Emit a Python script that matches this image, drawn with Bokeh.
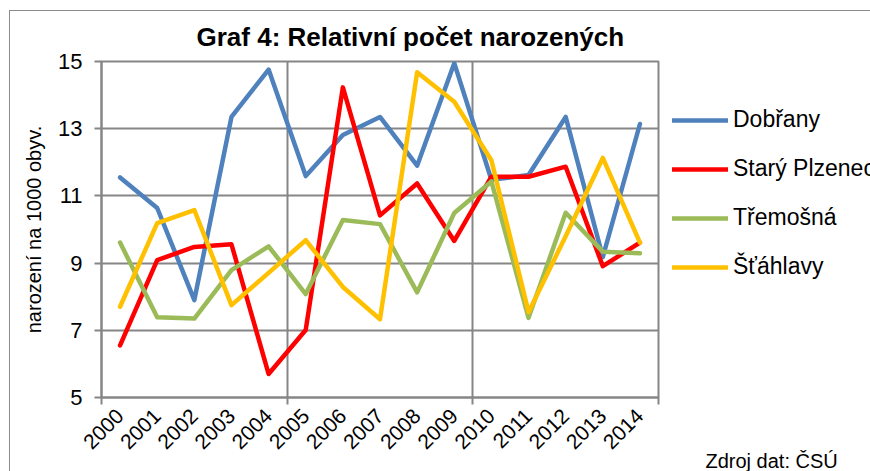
import math
from bokeh.plotting import figure
from bokeh.models import (FixedTicker, Legend, LegendItem, Title, Range1d,
                          InlineStyleSheet)
from bokeh.embed import file_html
from bokeh.resources import INLINE

years = ["2000", "2001", "2002", "2003", "2004", "2005", "2006", "2007",
         "2008", "2009", "2010", "2011", "2012", "2013", "2014"]
dobrany = [11.55, 10.64, 7.90, 13.35, 14.76, 11.59, 12.81, 13.35, 11.90,
           14.95, 11.48, 11.62, 13.35, 9.18, 13.14]
stary_plzenec = [6.55, 9.09, 9.48, 9.56, 5.70, 7.01, 14.23, 10.42, 11.37,
                 9.66, 11.57, 11.57, 11.87, 8.91, 9.61]
tremosna = [9.61, 7.39, 7.35, 8.79, 9.50, 8.08, 10.28, 10.16, 8.13,
            10.49, 11.43, 7.37, 10.50, 9.34, 9.29]
stahlavy = [7.70, 10.19, 10.58, 7.75, 8.71, 9.68, 8.29, 7.33, 14.68,
            13.80, 12.06, 7.54, 9.80, 12.13, 9.61]
series_names = ["Dobřany", "Starý Plzenec", "Třemošná", "Šťáhlavy"]
series_colors = ["#4F81BD", "#FF0000", "#9BBB59", "#FFC000"]
y_ticks = [5, 7, 9, 11, 13, 15]
source_note = "Zdroj dat: ČSÚ"

FONT = "Liberation Sans"
GRID = "#868686"

n = len(years)
xs = [i + 0.5 for i in range(n)]

p = figure(frame_width=557, frame_height=336, output_backend="svg",
           toolbar_location=None,
           x_range=Range1d(0, n), y_range=Range1d(5, 15),
           min_border_left=101, min_border_right=0, min_border_top=61,
           min_border_bottom=84)
p.background_fill_color = "white"
p.border_fill_color = "white"
p.outline_line_color = GRID
p.outline_line_width = 2
p.stylesheets = [InlineStyleSheet(css=(
    ":host::after { content: ''; position: absolute; left: 9px; top: 10px;"
    " right: 0px; bottom: 0px; border-left: 1.5px solid #8c8c8c;"
    " border-top: 1.5px solid #8c8c8c; pointer-events: none; }"))]

p.title = Title(text="Graf 4: Relativní počet narozených", align="left",
                offset=95, text_font=FONT, text_font_size="26px",
                text_font_style="bold", text_color="black", standoff=19)

# x axis
p.xaxis.ticker = FixedTicker(ticks=xs, minor_ticks=[0, 5, 10, 15])
p.xaxis.major_label_overrides = {x: y for x, y in zip(xs, years)}
p.xaxis.major_label_orientation = math.pi / 4
p.xaxis.major_tick_line_color = None
p.xaxis.minor_tick_line_color = GRID
p.xaxis.minor_tick_line_width = 2
p.xaxis.minor_tick_out = 7
p.xaxis.minor_tick_in = 0
p.xaxis.axis_line_color = GRID
p.xaxis.axis_line_width = 2
p.xaxis.major_label_text_font = FONT
p.xaxis.major_label_text_font_size = "21px"
p.xaxis.major_label_text_color = "black"
p.xaxis.major_label_standoff = 8

# y axis
p.yaxis.ticker = FixedTicker(ticks=y_ticks)
p.yaxis.minor_tick_line_color = None
p.yaxis.major_tick_line_color = GRID
p.yaxis.major_tick_line_width = 2
p.yaxis.major_tick_out = 7
p.yaxis.major_tick_in = 0
p.yaxis.axis_line_color = GRID
p.yaxis.axis_line_width = 2
p.yaxis.major_label_text_font = FONT
p.yaxis.major_label_text_font_size = "22px"
p.yaxis.major_label_text_color = "black"
p.yaxis.major_label_standoff = 12
p.yaxis.axis_label = "narození na 1000 obyv."
p.yaxis.axis_label_text_font = FONT
p.yaxis.axis_label_text_font_size = "20px"
p.yaxis.axis_label_text_font_style = "normal"
p.yaxis.axis_label_text_color = "black"
p.yaxis.axis_label_standoff = 10

# grids
p.xgrid.ticker = FixedTicker(ticks=[0, 5, 10, 15])
p.xgrid.grid_line_color = GRID
p.xgrid.grid_line_width = 2
p.ygrid.ticker = FixedTicker(ticks=y_ticks)
p.ygrid.grid_line_color = GRID
p.ygrid.grid_line_width = 2

items = []
for name, vals, col in zip(series_names,
                           [dobrany, stary_plzenec, tremosna, stahlavy],
                           series_colors):
    r = p.line(xs, vals, line_color=col, line_width=4.5,
               line_join="round", line_cap="round")
    items.append(LegendItem(label=name, renderers=[r]))

legend = Legend(items=items, location=(14, 117), orientation="vertical",
                glyph_width=56, glyph_height=22, label_height=22,
                label_standoff=5, spacing=22, padding=0, margin=0,
                border_line_color=None, background_fill_alpha=0,
                label_text_font=FONT, label_text_font_size="23px",
                label_text_color="black")
p.add_layout(legend, "right")

# source note under the category axis (negative standoff lifts it up)
p.add_layout(Title(text=source_note, align="left", offset=604,
                   text_font=FONT, text_font_size="20px",
                   text_font_style="normal", text_color="black",
                   standoff=-22), "below")

open("out.html", "w").write(file_html(p, INLINE))
